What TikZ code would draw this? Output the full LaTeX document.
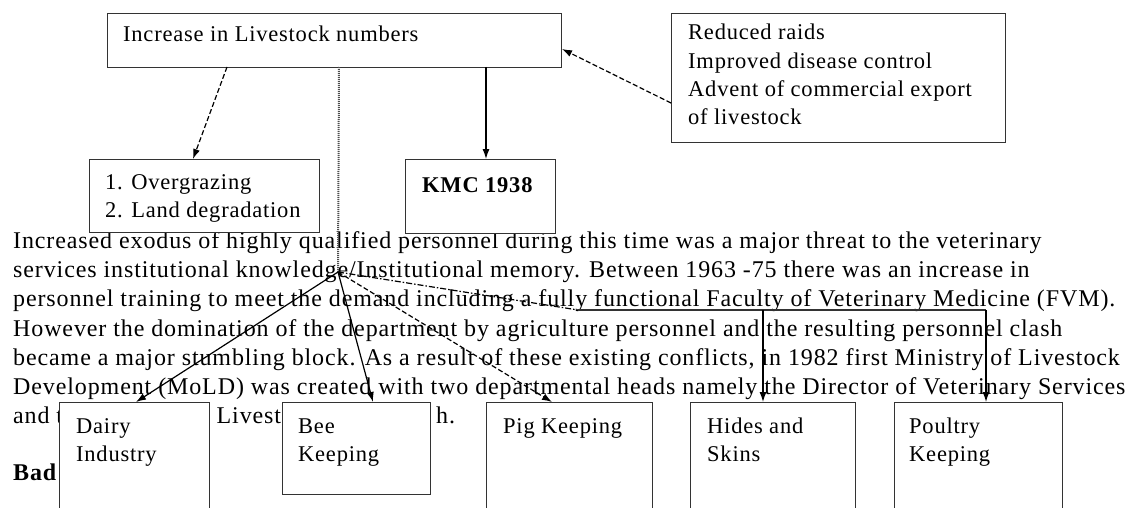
\documentclass[tikz,border=0pt]{standalone}
\usepackage{fontspec}
\setmainfont{Liberation Serif}
\newfontfamily\parafont[LetterSpace=3.7]{Liberation Serif}
\newfontfamily\boxfont[LetterSpace=3.5]{Liberation Serif}
\usetikzlibrary{arrows.meta}
\tikzset{
  box/.style={draw=black!80, line width=1.2pt, fill=white, inner sep=0pt, anchor=north west},
  ptxt/.style={anchor=base west, inner sep=0pt, font=\parafont\fontsize{24}{29}\selectfont},
  btxt/.style={anchor=base west, inner sep=0pt, font=\boxfont\fontsize{22.5}{28}\selectfont},
  arr/.style={-{Latex[length=10pt,width=7pt]}, line width=1.2pt},
  dashline/.style={dash pattern=on 5pt off 2.5pt},
  dashdotline/.style={dash pattern=on 6pt off 2pt on 1.5pt off 2pt},
}
\begin{document}
\begin{tikzpicture}[x=1pt,y=-1pt]
\fill[white] (0,0) rectangle (1139,508);
\useasboundingbox (0,0) rectangle (1139,508);
\clip (0,0) rectangle (1139,508);

% paragraph text
\node[ptxt] (p1) at (13,248.5) {Increased exodus of highly qualified personnel during this time was a major threat to the veterinary};
\node[ptxt] (p2) at (13,277.7) {services institutional knowledge/Institutional memory. Between 1963 -75 there was an increase in};
\node[ptxt] (p3) at (13,306.9) {personnel training to meet the demand including a fully functional Faculty of Veterinary Medicine (FVM).};
\node[ptxt] (p4) at (13,336.1) {However the domination of the department by agriculture personnel and the resulting personnel clash};
\node[ptxt] (p5) at (13,365.3) {became a major stumbling block. As a result of these existing conflicts, in 1982 first Ministry of Livestock};
\node[ptxt] (p6) at (13,394.5) {Development (MoLD) was created with two departmental heads namely the Director of Veterinary Services};
\node[ptxt] (p7a) at (13,423.7) {and t};
\node[ptxt] (p7b) at (216.5,423.7) {Livest};
\node[ptxt] (p7c) at (436,423.7) {h.};
\node[ptxt, font=\parafont\bfseries\fontsize{24}{29}\selectfont] (bad) at (13,480) {Bad};

% boxes
\node[box, minimum width=454, minimum height=54] (A) at (107,13) {};
\node[btxt] (At) at (123,42) {Increase in Livestock numbers};

\node[box, minimum width=334, minimum height=129] (B) at (671,13) {};
\node[btxt] (Bt1) at (688,40) {Reduced raids};
\node[btxt] (Bt2) at (688,68.3) {Improved disease control};
\node[btxt] (Bt3) at (688,96.6) {Advent of commercial export};
\node[btxt] (Bt4) at (688,124.9) {of livestock};

\node[box, minimum width=230, minimum height=73] (C) at (89,159) {};
\node[btxt] (Ct1) at (105,189) {1. Overgrazing};
\node[btxt] (Ct2) at (105,217.5) {2. Land degradation};

\node[box, minimum width=150, minimum height=74] (D) at (405,159) {};
\node[btxt, font=\boxfont\bfseries\fontsize{22.5}{28}\selectfont] (Dt) at (422,192) {KMC 1938};

\node[box, minimum width=150, minimum height=130] (dairy) at (59,402) {};
\node[btxt] (dairy1) at (76,433) {Dairy};
\node[btxt] (dairy2) at (76,461.5) {Industry};

\node[box, minimum width=148, minimum height=92] (bee) at (282,402) {};
\node[btxt] (bee1) at (298,433) {Bee};
\node[btxt] (bee2) at (298,461.5) {Keeping};

\node[box, minimum width=166, minimum height=130] (pig) at (486,402) {};
\node[btxt] (pig1) at (503,433) {Pig Keeping};

\node[box, minimum width=165, minimum height=130] (hides) at (690,402) {};
\node[btxt] (hides1) at (707,433) {Hides and};
\node[btxt] (hides2) at (707,461.5) {Skins};

\node[box, minimum width=168, minimum height=130] (poultry) at (894,402) {};
\node[btxt] (poultry1) at (909,433) {Poultry};
\node[btxt] (poultry2) at (909,461.5) {Keeping};

% connector points
\coordinate (hub) at (338,272);
\coordinate (aL) at (227,67);
\coordinate (cT) at (193,159);
\coordinate (bL) at (671,103);
\coordinate (aR) at (562,49);
\coordinate (aK) at (486,67);
\coordinate (dT) at (486,159);
\coordinate (aM) at (339,67);
\coordinate (dairyT) at (136,402);
\coordinate (beeT) at (373,402);
\coordinate (pigT) at (552,402);
\coordinate (elbow) at (578,310);
\coordinate (hidesJ) at (763,310);
\coordinate (poultryJ) at (986,310);
\coordinate (hidesT) at (763,402);
\coordinate (poultryT) at (986,402);

% connectors
\draw[arr, dashline] (aL) -- (cT);
\draw[arr, dashline] (bL) -- (aR);
\draw[arr] (aK) -- (dT);
\draw[black!70, line width=2pt, dash pattern=on 1pt off 1pt] (aM) -- (hub);
\draw[arr] (hub) -- (dairyT);
\draw[arr] (hub) -- (beeT);
\draw[arr, dashline] (hub) -- (pigT);
\draw[line width=1.2pt, dashdotline] (hub) -- (elbow);
\draw[line width=1.2pt, black!80] (elbow) -- (poultryJ);
\draw[arr] (hidesJ) -- (hidesT);
\draw[arr] (poultryJ) -- (poultryT);
\end{tikzpicture}
\end{document}
